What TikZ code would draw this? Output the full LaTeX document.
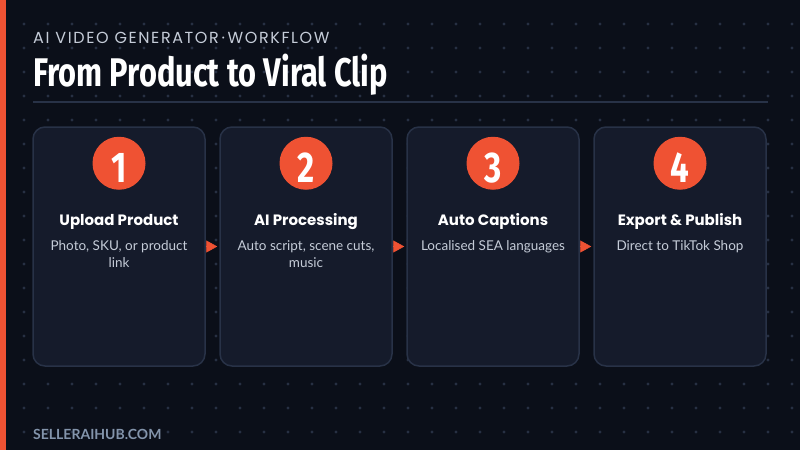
\documentclass[tikz,border=0pt]{standalone}
\usepackage{fontspec}
\usepackage{tikz}
\usetikzlibrary{positioning,arrows.meta}
\setmainfont{Lato}
\newfontfamily\condfont[FakeStretch=0.77]{Fira Sans}
\newfontfamily\geofont{Poppins}
\newfontfamily\kickerfont[LetterSpace=10]{Poppins}
\definecolor{pagebg}{HTML}{0B0F19}
\definecolor{dotgray}{HTML}{273043}
\definecolor{accent}{HTML}{EF5233}
\definecolor{cardbg}{HTML}{151B2B}
\definecolor{cardedge}{HTML}{283247}
\definecolor{softtext}{HTML}{C5CCD8}
\definecolor{foottext}{HTML}{8394AB}

\begin{document}
\begin{tikzpicture}[x=1pt, y=-1pt,
    node distance=13.5pt,
    card/.style={draw=cardedge, line width=1.5pt, rounded corners=12pt, fill=cardbg, minimum width=172pt, minimum height=239pt},
    badge/.style={circle, fill=accent, minimum size=53pt, inner sep=0pt, text=white, text height=38pt, text depth=0pt, font=\condfont\bfseries\fontsize{43}{43}\selectfont},
    steptitle/.style={anchor=base, inner sep=0pt, text=white, font=\geofont\bfseries\fontsize{15}{18}\selectfont},
    stepnote/.style={anchor=base, inner sep=0pt, align=center, text=softtext, font=\fontsize{13.5}{17}\selectfont},
    flow/.style={accent, line width=0.5pt, shorten >=2pt, -{Triangle[length=11pt, width=12pt]}}]
    \fill[pagebg] (0,0) rectangle (800,450);
    \useasboundingbox (0,0) rectangle (800,450);
    \foreach \i in {1,...,33}
      \foreach \j in {1,...,18}
        \fill[dotgray] (24*\i, 24*\j) circle (1.6pt);
    \fill[accent] (0,0) rectangle (6,450);

    \node[anchor=base west, inner sep=0pt, text=softtext, font=\kickerfont\fontsize{16}{16}\selectfont] (kicker) at (33,43) {AI VIDEO GENERATOR\,·\,WORKFLOW};
    \node[anchor=base west, inner sep=0pt, text=white, font=\condfont\bfseries\fontsize{40}{40}\selectfont] (headline) at (33,86) {From Product to Viral Clip};
    \draw[cardedge, line width=2pt] (33,102) -- (768,102);

    \node[card] (upload) at (119,246.5) {};
    \node[card, right=of upload] (process) {};
    \node[card, right=of process] (captions) {};
    \node[card, right=of captions] (publish) {};

    \node[badge] (one) at ([yshift=-37pt]upload.north) {1};
    \node[badge] (two) at ([yshift=-37pt]process.north) {2};
    \node[badge] (three) at ([yshift=-37pt]captions.north) {3};
    \node[badge] (four) at ([yshift=-37pt]publish.north) {4};

    \node[steptitle] (uploadhead) at ([yshift=-99pt]upload.north) {Upload Product};
    \node[steptitle] (processhead) at ([yshift=-99pt]process.north) {AI Processing};
    \node[steptitle] (captionshead) at ([yshift=-99pt]captions.north) {Auto Captions};
    \node[steptitle] (publishhead) at ([yshift=-99pt]publish.north) {Export \& Publish};

    \node[stepnote] (uploadnote) at ([yshift=-141pt]upload.north) {Photo, SKU, or product\\link};
    \node[stepnote] (processnote) at ([yshift=-141pt]process.north) {Auto script, scene cuts,\\music};
    \node[stepnote] (captionsnote) at ([yshift=-124pt]captions.north) {Localised SEA languages};
    \node[stepnote] (publishnote) at ([yshift=-124pt]publish.north) {Direct to TikTok Shop};

    \draw[flow] (upload) -- (process);
    \draw[flow] (process) -- (captions);
    \draw[flow] (captions) -- (publish);

    \node[anchor=base west, inner sep=0pt, text=foottext, font=\bfseries\fontsize{14}{14}\selectfont] (site) at (33,439) {SELLERAIHUB.COM};
  \end{tikzpicture}
\end{document}
